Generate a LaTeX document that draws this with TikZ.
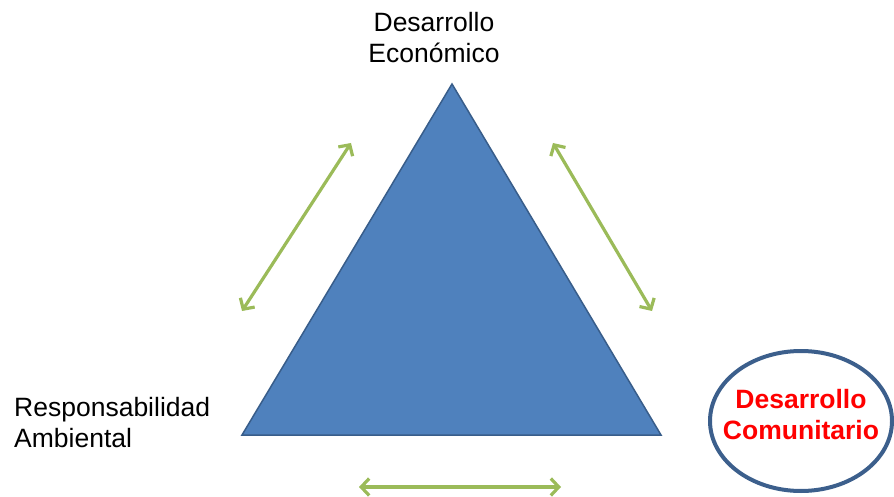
\documentclass[tikz,border=0pt]{standalone}
\usepackage{fontspec}
\setmainfont{Liberation Sans}
\usetikzlibrary{arrows.meta,shapes.geometric}
\definecolor{triFill}{HTML}{4F81BD}
\definecolor{triLine}{HTML}{385D8A}
\definecolor{arrGreen}{HTML}{9BBB59}
\definecolor{ellLine}{HTML}{3C5F8C}
\definecolor{redText}{HTML}{FF0000}
\tikzset{
  lbl/.style={font=\fontsize{26.5}{31}\selectfont, inner sep=0pt},
  dblarrow/.style={draw=arrGreen, line width=3.2pt, {Straight Barb[length=8pt,width=17pt]}-{Straight Barb[length=8pt,width=17pt]}}
}
\begin{document}
\begin{tikzpicture}[x=1pt,y=-1pt]
\useasboundingbox (0,0) rectangle (894,497);
% triangle
\coordinate (apex) at (452,84);
\coordinate (bl) at (242,435);
\coordinate (br) at (661,435);
\filldraw[fill=triFill, draw=triLine, line width=1.5pt, line join=miter] (apex) -- (bl) -- (br) -- cycle;
% arrows
\coordinate (a1) at (242,311);
\coordinate (a2) at (351,143);
\coordinate (b1) at (553,143);
\coordinate (b2) at (652,311);
\coordinate (c1) at (359,487);
\coordinate (c2) at (561,487);
\draw[dblarrow] (a1) -- (a2);
\draw[dblarrow] (b1) -- (b2);
\draw[dblarrow] (c1) -- (c2);
% labels
\node[lbl, align=center] (top) at (434,38) {Desarrollo\\Económico};
\node[lbl, align=left, anchor=west] (left) at (14,423) {Responsabilidad\\Ambiental};
% ellipse
\node[draw=ellLine, line width=4pt, ellipse, minimum width=182pt, minimum height=140pt] (ell) at (801,421) {};
\node[lbl, align=center, text=redText, font=\fontsize{26.5}{31}\selectfont\bfseries] (comm) at (801,415) {Desarrollo\\Comunitario};
\end{tikzpicture}
\end{document}
